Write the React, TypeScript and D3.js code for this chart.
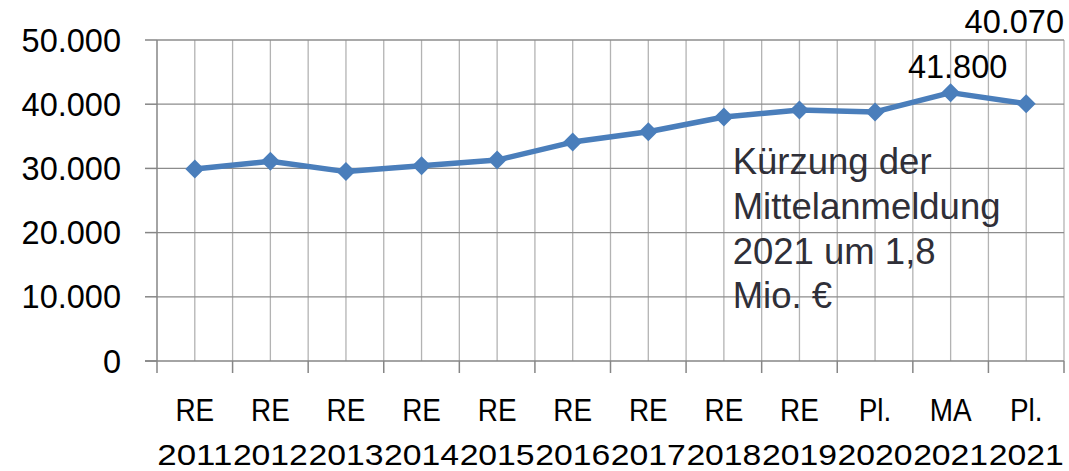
import React from 'react';
import * as d3 from 'd3';

// chart data
const topLabels = ['RE', 'RE', 'RE', 'RE', 'RE', 'RE', 'RE', 'RE', 'RE', 'Pl.', 'MA', 'Pl.'];
const yearLabels = ['2011', '2012', '2013', '2014', '2015', '2016', '2017', '2018', '2019', '2020', '2021', '2021'];
const values = [29900, 31100, 29500, 30400, 31300, 34100, 35700, 38000, 39100, 38800, 41800, 40070];
const labelledPoints = [10, 11];
const yTicks = [0, 10000, 20000, 30000, 40000, 50000];
const noteLines = ['Kürzung der', 'Mittelanmeldung', '2021 um 1,8', 'Mio. €'];

const W = 1069;
const H = 471;
const left = 157;
const right = 1064;
const top = 40;
const bottom = 361;

const de = d3.formatLocale({ decimal: ',', thousands: '.', grouping: [3], currency: ['', ' €'] });
const fmt = de.format(',d');

export default function App() {
  const idx = values.map((_, i) => String(i));
  const x = d3.scaleBand().domain(idx).range([left, right]).padding(0);
  const bw = x.bandwidth();
  const cx = (i: number) => (x(String(i)) as number) + bw / 2;
  const y = d3.scaleLinear().domain([0, 50000]).range([bottom, top]);

  const line = d3.line<number>().x((_, i) => cx(i)).y(d => y(d));

  // vertical grid: category boundaries and centers
  const vLines: number[] = [];
  idx.forEach((k, i) => {
    vLines.push(x(k) as number + bw);
    vLines.push(cx(i));
  });

  const font = '"Liberation Sans", Arial, sans-serif';

  return (
    <svg width={W} height={H} style={{ position: 'absolute', left: 0, top: 0, background: '#fff' }}
      fontFamily={font}>
      {/* grid */}
      {vLines.map((v, i) => (
        <line key={'v' + i} x1={v} x2={v} y1={top} y2={bottom} stroke="#b3b3b3" strokeWidth={1.3} />
      ))}
      {yTicks.filter(t => t > 0).map(t => (
        <line key={'h' + t} x1={left} x2={right} y1={y(t)} y2={y(t)} stroke="#8c8c8c" strokeWidth={1.3} />
      ))}

      {/* y axis */}
      <line x1={left} x2={left} y1={top} y2={373} stroke="#868686" strokeWidth={1.5} />
      {yTicks.map(t => (
        <g key={'yt' + t}>
          <line x1={145} x2={left} y1={y(t)} y2={y(t)} stroke="#868686" strokeWidth={1.5} />
          <text x={121} y={y(t) + 11.5} textAnchor="end" fontSize={32.5} fill="#000">{fmt(t)}</text>
        </g>
      ))}

      {/* x axis */}
      <line x1={145} x2={right} y1={bottom} y2={bottom} stroke="#868686" strokeWidth={1.5} />
      {idx.map(k => (
        <line key={'xt' + k} x1={x(k) as number + bw} x2={x(k) as number + bw} y1={bottom} y2={373}
          stroke="#868686" strokeWidth={1.5} />
      ))}
      {topLabels.map((l, i) => (
        <text key={'tl' + i} transform={`translate(${cx(i)},420.7) scale(0.9,1)`} textAnchor="middle"
          fontSize={31} fill="#000">{l}</text>
      ))}
      {yearLabels.map((l, i) => (
        <text key={'yl' + i} x={cx(i) - 37.5} y={465} textLength={75} lengthAdjust="spacingAndGlyphs"
          fontSize={30} fill="#000">{l}</text>
      ))}

      {/* series */}
      <path d={line(values) || ''} fill="none" stroke="#4a7ebb" strokeWidth={5.5} strokeLinejoin="round" />
      {values.map((v, i) => (
        <path key={'m' + i} transform={`translate(${cx(i)},${y(v)})`} d="M0,-9.5L9.5,0L0,9.5L-9.5,0Z"
          fill="#4a7ebb" />
      ))}

      {/* data labels */}
      {labelledPoints.map(i =>
        i === values.length - 1 ? (
          <text key={'dl' + i} x={right} y={33} textAnchor="end" fontSize={32.5} fill="#000">{fmt(values[i])}</text>
        ) : (
          <text key={'dl' + i} x={cx(i) + 7} y={y(values[i]) - 14.5} textAnchor="middle" fontSize={32.5} fill="#000">
            {fmt(values[i])}
          </text>
        )
      )}

      {/* note */}
      <text x={732.7} y={174.3} fontSize={36.5} fill="#2f2f38">
        {noteLines.map((l, i) => (
          <tspan key={'n' + i} x={732.7} dy={i === 0 ? 0 : 44.6}>{l}</tspan>
        ))}
      </text>
    </svg>
  );
}
